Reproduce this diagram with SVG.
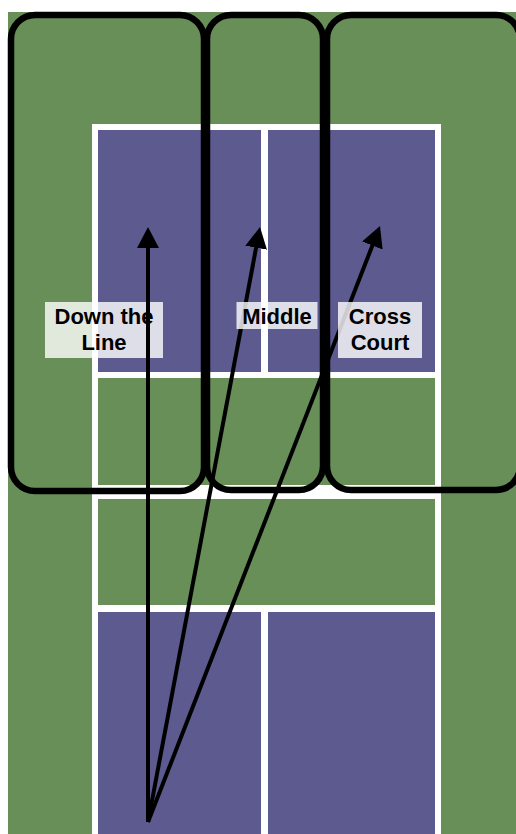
<svg xmlns="http://www.w3.org/2000/svg" width="516" height="834" viewBox="0 0 516 834">
  <style>
    .grass { fill: #688F58; }
    .blue { fill: #5C5A8F; }
    .zone { fill: none; stroke: #000; stroke-width: 6.5; }
    .shot { fill: none; stroke: #000; stroke-width: 4; marker-end: url(#head); }
    .lbl { fill: #FFFFFF; fill-opacity: 0.8; }
    .txt { font-family: "Liberation Sans", Arial, sans-serif; font-weight: bold; font-size: 22px; fill: #000; text-anchor: middle; }
  </style>
  <defs>
    <marker id="head" viewBox="0 0 21 22" refX="2" refY="11" markerWidth="21" markerHeight="22" markerUnits="userSpaceOnUse" orient="auto">
      <path d="M0,0 L21,11 L0,22 z" fill="#000"/>
    </marker>
  </defs>
  <rect width="516" height="834" fill="#FFFFFF"/>
  <rect class="grass" x="8" y="12" width="508" height="822"/>
  <g id="court">
    <rect x="92" y="124" width="349" height="710" fill="#FFFFFF"/>
    <rect class="blue" x="98" y="130" width="163" height="242"/>
    <rect class="blue" x="268" y="130" width="167" height="242"/>
    <rect class="grass" x="98" y="378" width="337" height="107"/>
    <rect class="grass" x="98" y="499" width="337" height="106"/>
    <rect class="blue" x="98" y="612" width="163" height="222"/>
    <rect class="blue" x="268" y="612" width="167" height="222"/>
  </g>
  <g id="zone-down-the-line">
    <rect class="zone" x="11" y="15" width="193" height="476" rx="24" ry="24"/>
  </g>
  <g id="zone-middle">
    <rect class="zone" x="207" y="15" width="116" height="475" rx="24" ry="24"/>
  </g>
  <g id="zone-cross-court">
    <rect class="zone" x="327" y="15" width="193" height="475" rx="24" ry="24"/>
  </g>
  <g id="connectors-under">
    <path class="shot" d="M148,822 L256.5,245.7"/>
    <path class="shot" d="M148,822 L373.1,243.7"/>
  </g>
  <g id="label-down-the-line">
    <rect class="lbl" x="45" y="302" width="118" height="56"/>
  </g>
  <g id="label-middle">
    <rect class="lbl" x="236.5" y="302" width="81" height="27"/>
    <text class="txt" x="277" y="323.5">Middle</text>
  </g>
  <g id="label-cross-court">
    <rect class="lbl" x="338" y="302" width="84" height="56"/>
    <text class="txt" x="380" y="324.3">Cross</text>
    <text class="txt" x="380" y="349.5">Court</text>
  </g>
  <g id="connectors">
    <path class="shot" d="M148,822 L148,246"/>
  </g>
  <g id="label-down-the-line-text">
    <text class="txt" x="104" y="324.3">Down the</text>
    <text class="txt" x="104" y="349.5">Line</text>
  </g>
</svg>
